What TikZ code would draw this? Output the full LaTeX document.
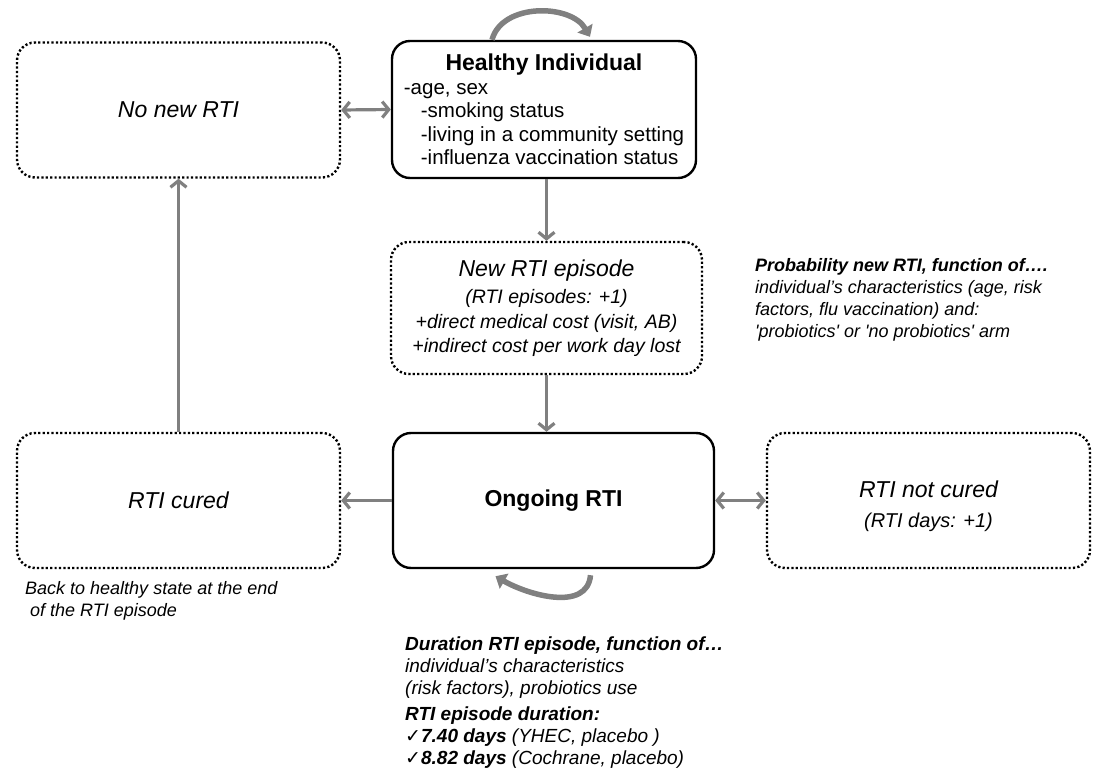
\documentclass[tikz,border=0pt]{standalone}
\usepackage{fontspec}
\setmainfont{Liberation Sans}
\newfontfamily\checkfont{DejaVu Sans}
\usetikzlibrary{arrows.meta,calc}
\newcommand{\tick}{{\checkfont\fontsize{19}{22}\selectfont\char"2713}}
\begin{document}
\begin{tikzpicture}[x=1pt,y=-1pt,
  solidbox/.style={draw=black, line width=2.4pt, rounded corners=18pt, minimum height=135pt, inner sep=6pt, align=center, font=\fontsize{23}{27}\selectfont},
  dotbox/.style={solidbox, dash pattern=on 2.2pt off 2.2pt, font=\fontsize{23}{27}\selectfont\itshape},
  flow/.style={draw=gray, line width=3.2pt, -{Straight Barb[length=6.5pt,width=16pt]}},
  both/.style={flow, {Straight Barb[length=6.5pt,width=16pt]}-{Straight Barb[length=6.5pt,width=16pt]}},
  loopy/.style={draw=gray, line width=5.5pt, -{Triangle[length=10pt,width=17pt]}},
  note/.style={anchor=north west, align=left, inner sep=0pt, font=\fontsize{18}{22}\selectfont\itshape}]

\useasboundingbox (0,0) rectangle (1095,770);

\node[dotbox, minimum width=323pt] (nonew) at (178.5,110) {No new RTI};
\node[solidbox, minimum width=304pt, minimum height=137pt, align=left, font=\fontsize{20.5}{23.5}\selectfont] (healthy) at (544,109.5)
  {\makebox[280pt]{\fontsize{23}{27}\selectfont\bfseries Healthy Individual}\\
   -age, sex\\
   \hspace*{17pt}-smoking status\\
   \hspace*{17pt}-living in a community setting\\
   \hspace*{17pt}-influenza vaccination status};
\node[dotbox, minimum width=311pt, minimum height=132pt, font=\fontsize{19.5}{24.5}\selectfont\itshape] (newrti) at (546.5,308)
  {{\fontsize{23}{27}\selectfont New RTI episode}\\[3pt]
   (RTI episodes: +1)\\
   +direct medical cost (visit, AB)\\
   +indirect cost per work day lost};
\node[solidbox, minimum width=321pt, font=\fontsize{23}{27}\selectfont\bfseries] (ongoing) at (553.5,500.5) {Ongoing RTI};
\node[dotbox, minimum width=323pt] (cured) at (178.5,500.5) {RTI cured};
\node[dotbox, minimum width=323pt] (notcured) at (928.5,500.5)
  {\rule{0pt}{28pt}RTI not cured\\[3pt]{\fontsize{20}{24}\selectfont(RTI days: +1)}};

\draw[both] (nonew.east) -- (healthy.west);
\draw[flow] (healthy.south -| newrti.north) -- (newrti.north);
\draw[flow] (newrti.south) -- (newrti.south |- ongoing.north);
\draw[flow] (ongoing.west) -- (cured.east);
\draw[flow] (cured.north) -- (nonew.south);
\draw[both] (ongoing.east) -- (notcured.west);

\draw[loopy] ([xshift=-52pt]healthy.north) to[out=75,in=120] ([xshift=46pt,yshift=3pt]healthy.north);
\draw[loopy] ([xshift=37pt,yshift=-6pt]ongoing.south) to[out=-95,in=-30] ([xshift=-58pt,yshift=-7pt]ongoing.south);

\node[note] (prob) at (755,258)
  {\textbf{Probability new RTI, function of….}\\
   individual’s characteristics (age, risk\\
   factors, flu vaccination) and:\\
   \textquotesingle probiotics\textquotesingle\ or \textquotesingle no probiotics\textquotesingle\ arm};
\node[note] (back) at (25,581)
  {Back to healthy state at the end\\
   \ of the RTI episode};
\node[note, font=\fontsize{19}{22}\selectfont\itshape] (duration) at (405,637)
  {\textbf{Duration RTI episode, function of…}\\
   individual’s characteristics\\
   (risk factors), probiotics use\\[4pt]
   \textbf{RTI episode duration:}\\
   \tick\textbf{7.40 days} (YHEC, placebo )\\
   \tick\textbf{8.82 days} (Cochrane, placebo)};

\end{tikzpicture}
\end{document}
